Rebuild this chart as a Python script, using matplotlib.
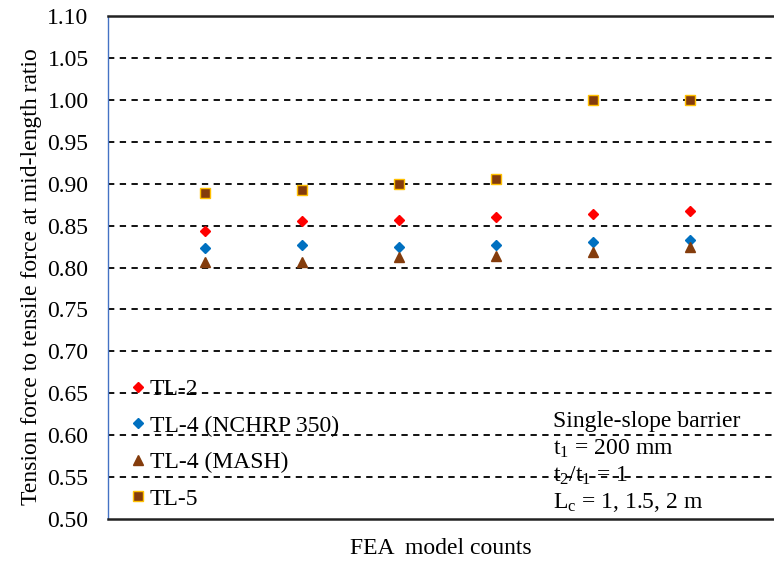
import numpy as np
import matplotlib
matplotlib.use("Agg")
import matplotlib.pyplot as plt

plt.rcParams['font.family'] = ['Liberation Serif', 'DejaVu Serif']
plt.rcParams['mathtext.fontset'] = 'custom'
plt.rcParams['mathtext.rm'] = 'Liberation Serif'
plt.rcParams['mathtext.it'] = 'Liberation Serif:italic'

# datos
modelos = [1, 2, 3, 4, 5, 6]
tl2 = [0.843, 0.855, 0.857, 0.860, 0.864, 0.867]
tl4_nchrp = [0.823, 0.827, 0.824, 0.827, 0.831, 0.833]
tl4_mash = [0.806, 0.807, 0.812, 0.814, 0.819, 0.825]
tl5 = [0.889, 0.892, 0.900, 0.906, 1.000, 1.000]
yticks = np.arange(0.50, 1.101, 0.05)

fs = 17

fig = plt.figure(figsize=(7.74, 5.62), dpi=100)
ax = fig.add_axes([108/774, 1-519/562, 666/774, 503/562])

ax.plot(modelos, tl2, linestyle='none', marker='D', ms=5, color='#FF0000',
        label='TL-2')
ax.plot(modelos, tl4_nchrp, linestyle='none', marker='D', ms=5.5, color='#0070C0',
        label='TL-4 (NCHRP 350)')
ax.plot(modelos, tl4_mash, linestyle='none', marker='^', ms=6.5, color='#843C0C',
        label='TL-4 (MASH)')
ax.plot(modelos, tl5, linestyle='none', marker='s', ms=7.5, color='#843C0C',
        markeredgecolor='#FFC000', markeredgewidth=1.0, label='TL-5')

ax.set_xlim(0, 6.866)
ax.set_ylim(0.50, 1.10)
ax.set_yticks(yticks)
ax.set_yticklabels(['%.2f' % v for v in yticks], fontsize=fs)
ax.set_xticks([])
ax.tick_params(axis='y', length=0, pad=14)

for v in yticks[1:-1]:
    ax.axhline(v, color='black', linestyle=(0, (3.5, 3)), linewidth=1.3, zorder=0)

ax.spines['right'].set_visible(False)
ax.spines['left'].set_color('#4472C4')
ax.spines['left'].set_linewidth(1.0)
ax.spines['top'].set_color('#222222')
ax.spines['top'].set_linewidth(1.8)
ax.spines['bottom'].set_color('#222222')
ax.spines['bottom'].set_linewidth(1.8)

ax.set_ylabel('Tension force to tensile force at mid-length ratio', fontsize=fs,
              labelpad=4)
ax.yaxis.label.set_y(0.481)
ax.set_xlabel('FEA  model counts', fontsize=fs, labelpad=14)

ax.legend(loc='lower left', bbox_to_anchor=(0.02, 0.0), frameon=False, fontsize=fs,
          handlelength=0.6, handletextpad=0.2, labelspacing=0.63,
          borderaxespad=0.0, numpoints=1)

lineas = ['Single-slope barrier', r'$\mathregular{t_1}$ = 200 mm',
          r'$\mathregular{t_2/t_1}$ = 1', r'$\mathregular{L_c}$ = 1, 1.5, 2 m']
ys = [421, 449, 476, 502]
for txt, yp in zip(lineas, ys):
    fig.text(553/774, 1-yp/562, txt, fontsize=fs, va='center', ha='left')

fig.savefig('out.png', dpi=100)
